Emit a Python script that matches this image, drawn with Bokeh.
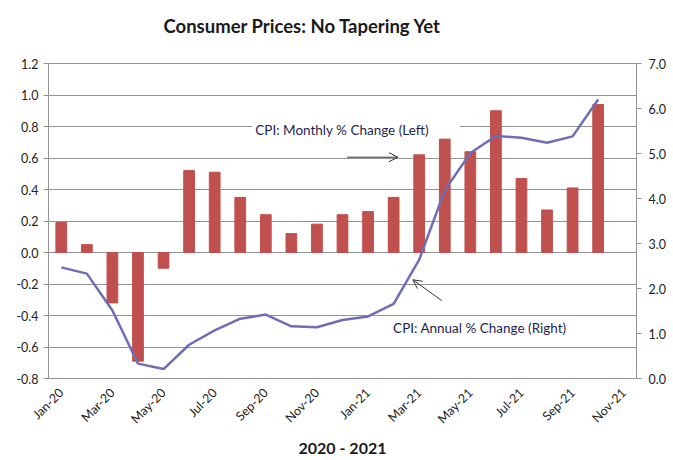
import math
from bokeh.plotting import figure
from bokeh.models import (Range1d, LinearAxis, FixedTicker, NumeralTickFormatter,
                          Label, Arrow, OpenHead, BoxAnnotation, ColumnDataSource)
from bokeh.embed import file_html
from bokeh.resources import INLINE

months = ["Jan-20", "Feb-20", "Mar-20", "Apr-20", "May-20", "Jun-20", "Jul-20",
          "Aug-20", "Sep-20", "Oct-20", "Nov-20", "Dec-20", "Jan-21", "Feb-21",
          "Mar-21", "Apr-21", "May-21", "Jun-21", "Jul-21", "Aug-21", "Sep-21",
          "Oct-21", "Nov-21"]
data_months = months[:22]
monthly_change = [0.19, 0.05, -0.32, -0.69, -0.10, 0.52, 0.51, 0.35, 0.24, 0.12,
                  0.18, 0.24, 0.26, 0.35, 0.62, 0.72, 0.64, 0.90, 0.47, 0.27,
                  0.41, 0.94]
annual_change = [2.47, 2.33, 1.51, 0.33, 0.21, 0.75, 1.07, 1.33, 1.42, 1.16,
                 1.14, 1.30, 1.38, 1.66, 2.64, 4.18, 5.01, 5.39, 5.35, 5.24,
                 5.38, 6.20]
left_ticks = [-0.8, -0.6, -0.4, -0.2, 0.0, 0.2, 0.4, 0.6, 0.8, 1.0, 1.2]
right_ticks = [0, 1, 2, 3, 4, 5, 6, 7]
labelled_months = months[::2]

FONT = "Lato"
GRID = "#939393"
TXT = "#222222"

# category slot centres (one slot per month)
src = ColumnDataSource(dict(
    month=data_months,
    x=[months.index(m) + 0.5 for m in data_months],
    monthly=monthly_change,
    annual=annual_change,
))

p = figure(x_range=Range1d(0, len(months)), y_range=Range1d(-0.8, 1.2),
           frame_width=588, frame_height=315,
           min_border_left=48, min_border_right=29, min_border_top=63,
           min_border_bottom=66, output_backend="svg", toolbar_location=None,
           background_fill_color="white", border_fill_color="white")
p.extra_y_ranges = {"right": Range1d(0, 7)}

p.title.text = "Consumer Prices: No Tapering Yet\n"
p.title.text_font = FONT
p.title.text_font_size = "18.5px"
p.title.text_font_style = "bold"
p.title.text_color = "#1a1a1a"
p.title.align = "left"
p.title.offset = 115
p.title.standoff = 10

p.outline_line_color = GRID
p.xgrid.grid_line_color = None
p.ygrid.ticker = FixedTicker(ticks=left_ticks)
p.ygrid.grid_line_color = GRID
p.ygrid.grid_line_width = 1

# left axis
ya = p.yaxis[0]
ya.ticker = FixedTicker(ticks=left_ticks)
ya.formatter = NumeralTickFormatter(format="0.0")
ya.axis_line_color = GRID
ya.major_tick_line_color = GRID
ya.major_tick_out = 5
ya.major_tick_in = 0
ya.minor_tick_line_color = None
ya.major_label_text_font = FONT
ya.major_label_text_font_size = "12.5px"
ya.major_label_text_color = TXT
ya.major_label_standoff = 5

# right axis
ra = LinearAxis(y_range_name="right", ticker=FixedTicker(ticks=right_ticks),
                formatter=NumeralTickFormatter(format="0.0"))
ra.axis_line_color = GRID
ra.major_tick_line_color = GRID
ra.major_tick_out = 5
ra.major_tick_in = 0
ra.minor_tick_line_color = None
ra.major_label_text_font = FONT
ra.major_label_text_font_size = "12.5px"
ra.major_label_text_color = TXT
ra.major_label_standoff = 7
p.add_layout(ra, "right")

# month axis: label every other month
label_pos = [months.index(m) + 0.5 for m in labelled_months]
xa = p.xaxis[0]
xa.ticker = FixedTicker(ticks=label_pos)
xa.major_label_overrides = {pos: m for pos, m in zip(label_pos, labelled_months)}
xa.axis_line_color = GRID
xa.major_tick_line_color = None
xa.minor_tick_line_color = None
xa.major_label_orientation = math.pi / 4
xa.major_label_text_font = FONT
xa.major_label_text_font_size = "12.5px"
xa.major_label_text_color = TXT
xa.major_label_standoff = 6
xa.axis_label = "2020 - 2021"
xa.axis_label_text_font = FONT
xa.axis_label_text_font_size = "16px"
xa.axis_label_text_font_style = "bold"
xa.axis_label_text_color = "#1a1a1a"
xa.axis_label_standoff = 3

p.vbar(x="x", top="monthly", width=0.42, color="#C0504D", source=src)
p.line(x="x", y="annual", y_range_name="right",
       line_color="#6E6EB4", line_width=2.5, source=src)

# annotations
p.add_layout(BoxAnnotation(left=7.97, right=16.1, bottom=0.73, top=0.83,
                           fill_color="white", fill_alpha=1.0, line_color=None,
                           level="underlay"))
p.add_layout(Label(x=8.09, y=0.775, text="CPI: Monthly % Change (Left)",
                   text_font=FONT, text_font_size="13.5px", text_color="#1f1f4f",
                   text_baseline="middle", text_align="left"))
p.add_layout(Label(x=13.48, y=-0.48, text="CPI: Annual % Change (Right)",
                   text_font=FONT, text_font_size="13.5px", text_color="#1f1f4f",
                   text_baseline="middle", text_align="left"))
p.add_layout(Arrow(x_start=11.68, y_start=0.605, x_end=13.67, y_end=0.605,
                   line_color="#333333", line_width=1,
                   end=OpenHead(size=9, line_color="#333333", line_width=1)))
p.add_layout(Arrow(x_start=15.38, y_start=-0.305, x_end=14.25, y_end=-0.173,
                   line_color="#333333", line_width=1,
                   end=OpenHead(size=9, line_color="#333333", line_width=1)))

open("out.html", "w").write(file_html(p, INLINE))
